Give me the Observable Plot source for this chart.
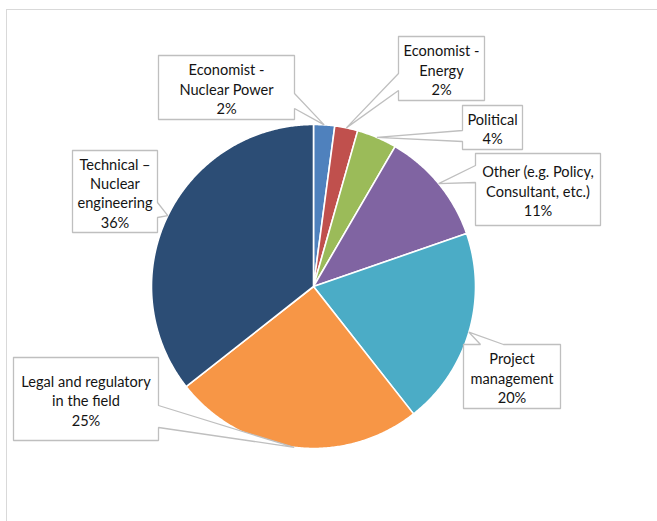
<!DOCTYPE html>
<html>
<head>
<meta charset="utf-8">
<script src="https://cdn.jsdelivr.net/npm/d3@7"></script>
<script src="https://cdn.jsdelivr.net/npm/@observablehq/plot@0.6"></script>
<style>
  html, body { margin: 0; padding: 0; background: #ffffff; }
  #chart { width: 657px; height: 521px; overflow: hidden; }
</style>
</head>
<body>
<div id="chart"></div>
<script>
// ---- data ----
const categories = [
  "Economist - Nuclear Power",
  "Economist - Energy",
  "Political",
  "Other (e.g. Policy, Consultant, etc.)",
  "Project management",
  "Legal and regulatory in the field",
  "Technical – Nuclear engineering"
];
const labelLines = [
  "Economist -\nNuclear Power",
  "Economist -\nEnergy",
  "Political",
  "Other (e.g. Policy,\nConsultant, etc.)",
  "Project\nmanagement",
  "Legal and regulatory\nin the field",
  "Technical –\nNuclear\nengineering"
];
const values = [2.1, 2.3, 4.0, 11.3, 19.7, 25.0, 35.6];
const colors = ["#4F81BD", "#C0504D", "#9BBB59", "#8064A2", "#4BACC6", "#F79646", "#2C4D75"];

// ---- layout (pixel space used as the scales' domain) ----
const W = 657, H = 521;
const cx = 313, cy = 286, R = 162;
// callout boxes: [x1, y1, x2, y2], side of the pointer, pointer base [a, b]
const boxes = [
  {box: [158, 55, 294, 119], side: "right", base: [93, 108]},
  {box: [398, 36, 484, 100], side: "left", base: [73, 90]},
  {box: [462, 105, 522, 149], side: "left", base: [130, 141]},
  {box: [475, 153, 600, 225], side: "left", base: [165, 182]},
  {box: [463, 344, 560, 408], side: "top", base: [480, 503]},
  {box: [13, 357, 158, 440], side: "right", base: [405, 427]},
  {box: [72, 150, 157, 232], side: "right", base: [202, 217]}
];

const arcs = d3.pie().sort(null).startAngle(0).endAngle(2 * Math.PI)(values);
const px = a => cx + R * Math.sin(a);
const py = a => cy - R * Math.cos(a);

// slice polygons
const slicePts = [];
arcs.forEach((a, i) => {
  const name = categories[i];
  slicePts.push({name, x: cx, y: cy});
  const n = Math.max(2, Math.ceil((a.endAngle - a.startAngle) / (Math.PI / 360)));
  for (let k = 0; k <= n; k++) {
    const t = a.startAngle + (a.endAngle - a.startAngle) * k / n;
    slicePts.push({name, x: px(t), y: py(t)});
  }
  slicePts.push({name, x: cx, y: cy});
});

// callout outlines (box + wedge pointing to slice mid-angle)
const calloutPts = [];
const labelData = [];
arcs.forEach((a, i) => {
  const name = categories[i];
  const mid = (a.startAngle + a.endAngle) / 2;
  const tip = [px(mid), py(mid)];
  const {box: [x1, y1, x2, y2], side, base: [b1, b2]} = boxes[i];
  let pts;
  if (side === "right") {
    pts = [[x1, y1], [x2, y1], [x2, b1], tip, [x2, b2], [x2, y2], [x1, y2], [x1, y1]];
  } else if (side === "left") {
    pts = [[x1, y1], [x2, y1], [x2, y2], [x1, y2], [x1, b2], tip, [x1, b1], [x1, y1]];
  } else {
    pts = [[x1, y1], [b1, y1], tip, [b2, y1], [x2, y1], [x2, y2], [x1, y2], [x1, y1]];
  }
  pts.forEach(p => calloutPts.push({name, x: p[0], y: p[1]}));
  labelData.push({
    x: (x1 + x2) / 2,
    y: (y1 + y2) / 2 + 1,
    text: labelLines[i] + "\n" + Math.round(values[i]) + "%"
  });
});

const frame = [{x1: 6.5, y1: 9.5, x2: W + 10, y2: H + 10}];

const chart = Plot.plot({
  width: W,
  height: H,
  margin: 0,
  x: {domain: [0, W], range: [0, W], axis: null},
  y: {domain: [0, H], range: [0, H], axis: null},
  color: {domain: categories, range: colors},
  style: {fontFamily: "Lato, 'Open Sans', sans-serif", background: "#ffffff", overflow: "hidden"},
  marks: [
    Plot.rect(frame, {x1: "x1", y1: "y1", x2: "x2", y2: "y2", fill: "none", stroke: "#d9d9d9", strokeWidth: 1}),
    Plot.line(slicePts, {x: "x", y: "y", z: "name", fill: "name", stroke: "#ffffff", strokeWidth: 1.6, strokeLinejoin: "round", curve: "linear"}),
    Plot.line(calloutPts, {x: "x", y: "y", z: "name", fill: "#ffffff", stroke: "#bfbfbf", strokeWidth: 1.3, strokeLinejoin: "miter", curve: "linear"}),
    Plot.text(labelData, {x: "x", y: "y", text: "text", fontSize: 14.6, lineHeight: 1.33, fill: "#141414", textAnchor: "middle"})
  ]
});
document.getElementById("chart").appendChild(chart);
</script>
</body>
</html>
